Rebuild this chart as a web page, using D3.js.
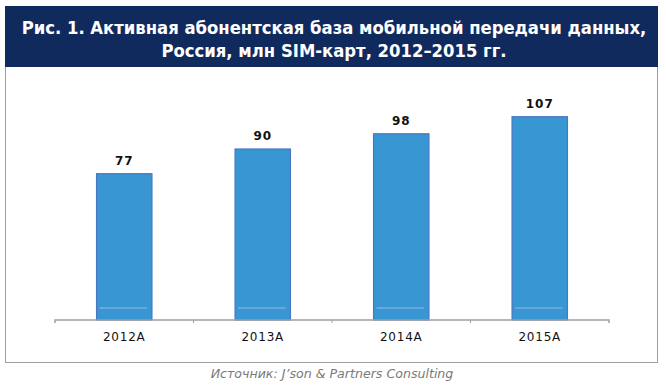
<!DOCTYPE html>
<html>
<head>
<meta charset="utf-8">
<script src="https://cdn.jsdelivr.net/npm/d3@7"></script>
<style>
  body { margin: 0; background: #fff; }
  svg { display: block; }
</style>
</head>
<body>
<svg id="chart" width="666" height="387"></svg>
<script>
// data
const years = ["2012A", "2013A", "2014A", "2015A"];
const subscribers = [77, 90, 98, 107];
const titleLines = ["Рис. 1. Активная абонентская база мобильной передачи данных,",
                    "Россия, млн SIM-карт, 2012–2015 гг."];
const sourceText = "Источник: J’son & Partners Consulting";

let chart = d3.select("#chart");

// frame
chart.append("rect")
    .attr("x", 5.5).attr("y", 6.5)
    .attr("width", 652).attr("height", 356)
    .attr("fill", "#fff")
    .attr("stroke", "#a0a0a0");

chart.append("rect")
    .attr("x", 5).attr("y", 6)
    .attr("width", 653).attr("height", 61)
    .attr("fill", "#112a5e");

chart.selectAll("text.title")
    .data(titleLines).enter()
    .append("text")
        .attr("class", "title")
        .text(d => d)
        .attr("x", 334)
        .attr("y", (d, i) => 34 + i * 23)
        .attr("text-anchor", "middle")
        .attr("fill", "#fff")
        .attr("font-family", "DejaVu Sans Condensed, DejaVu Sans, sans-serif")
        .attr("font-weight", "bold")
        .attr("font-size", "18.3px");

let xScale = d3.scaleBand()
    .domain(years)
    .range([55, 609])
    .padding(0);

let yScale = d3.scaleLinear()
    .domain([0, 120])
    .range([320, 92]);

let barW = xScale.bandwidth() * 0.4;

chart.selectAll("rect.bar")
    .data(subscribers).enter()
    .append("rect")
        .attr("class", "bar")
        .attr("x", (d, i) => xScale(years[i]) + (xScale.bandwidth() - barW) / 2)
        .attr("y", d => yScale(d))
        .attr("width", barW)
        .attr("height", d => yScale(0) - yScale(d))
        .attr("fill", "#3897d2")
        .attr("stroke", "#4a76c6")
        .attr("stroke-width", 1.2);

// faint inner highlight near the bottom of each bar
chart.selectAll("line.hl")
    .data(subscribers).enter()
    .append("line")
        .attr("class", "hl")
        .attr("x1", (d, i) => xScale(years[i]) + (xScale.bandwidth() - barW) / 2 + 3)
        .attr("x2", (d, i) => xScale(years[i]) + (xScale.bandwidth() + barW) / 2 - 5)
        .attr("y1", yScale(0) - 12)
        .attr("y2", yScale(0) - 12)
        .attr("stroke", "#6aa6d9")
        .attr("stroke-width", 2);

chart.selectAll("text.val")
    .data(subscribers).enter()
    .append("text")
        .attr("class", "val")
        .text(d => d)
        .attr("x", (d, i) => xScale(years[i]) + xScale.bandwidth() / 2)
        .attr("y", d => yScale(d) - 9)
        .attr("text-anchor", "middle")
        .attr("font-family", "DejaVu Sans, sans-serif")
        .attr("font-weight", "bold")
        .attr("font-size", "12px")
        .attr("letter-spacing", "1px")
        .attr("fill", "#111");

let xAxis = chart.append("g")
    .attr("transform", "translate(0,320)")
    .call(d3.axisBottom(xScale).tickSize(0).tickPadding(12));

xAxis.select(".domain").attr("stroke", "#a0a0a0").attr("stroke-width", 1.5)
    .attr("d", "M55,3V0H609V3");
xAxis.selectAll("text")
    .attr("font-family", "DejaVu Sans, sans-serif")
    .attr("font-size", "12px")
    .attr("letter-spacing", "0.8px")
    .attr("fill", "#111");

// small ticks between categories
xAxis.selectAll("line.sep")
    .data(years.slice(1)).enter()
    .append("line")
        .attr("class", "sep")
        .attr("x1", d => xScale(d)).attr("x2", d => xScale(d))
        .attr("y1", 0).attr("y2", 3)
        .attr("stroke", "#a0a0a0");

chart.append("text")
    .text(sourceText)
    .attr("x", 332)
    .attr("y", 378)
    .attr("text-anchor", "middle")
    .attr("font-family", "DejaVu Sans, sans-serif")
    .attr("font-style", "italic")
    .attr("font-size", "12.6px")
    .attr("fill", "#7a7a7a");
</script>
</body>
</html>
